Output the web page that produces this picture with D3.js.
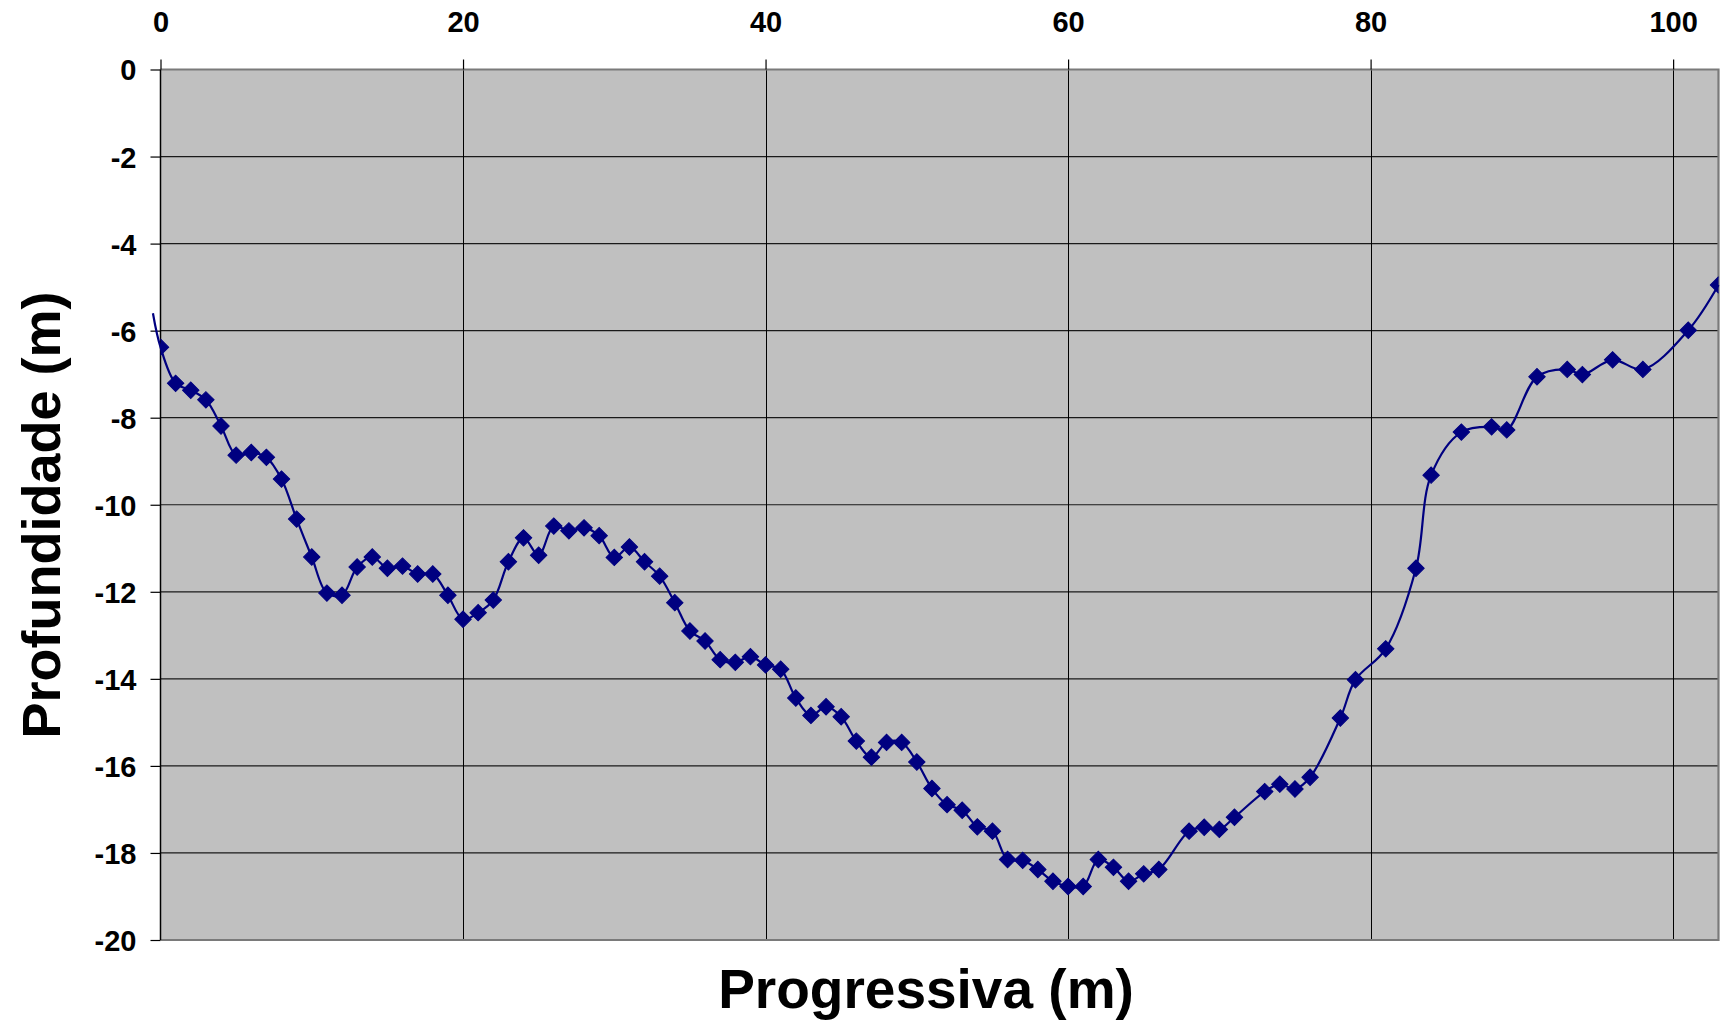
<!DOCTYPE html>
<html>
<head>
<meta charset="utf-8">
<script src="https://cdn.jsdelivr.net/npm/d3@7"></script>
<style>
  html, body { margin: 0; padding: 0; background: #fff; }
  svg { display: block; }
  text { font-family: "Liberation Sans", Arial, sans-serif; font-weight: bold; fill: #000; }
</style>
</head>
<body>
<svg id="chart" width="1720" height="1026"></svg>
<script>
// ---- data ----
const progressiva = [-0.5, 0, 1, 2, 3, 4, 5, 6, 7, 8, 9, 10, 11, 12, 13, 14, 15, 16, 17, 18, 19,
  20, 21, 22, 23, 24, 25, 26, 27, 28, 29, 30, 31, 32, 33, 34, 35, 36, 37, 38, 39,
  40, 41, 42, 43, 44, 45, 46, 47, 48, 49, 50, 51, 52, 53, 54, 55, 56, 57, 58, 59,
  60, 61, 62, 63, 64, 65, 66, 68, 69, 70, 71, 73, 74, 75, 76, 78, 79,
  81, 83, 84, 86, 88, 89, 91, 93, 94, 96, 98, 101, 103];
const profundidade = [-5.6, -6.38, -7.21, -7.37, -7.59, -8.19, -8.86, -8.80, -8.91, -9.41, -10.33, -11.20, -12.03, -12.08, -11.43, -11.20, -11.46, -11.41, -11.59, -11.59, -12.08,
  -12.63, -12.48, -12.19, -11.31, -10.76, -11.16, -10.49, -10.60, -10.53, -10.71, -11.21, -10.97, -11.31, -11.64, -12.25, -12.90, -13.13, -13.56, -13.62, -13.49,
  -13.68, -13.78, -14.44, -14.84, -14.64, -14.87, -15.43, -15.80, -15.46, -15.46, -15.91, -16.52, -16.89, -17.02, -17.40, -17.50, -18.15, -18.17, -18.38, -18.65,
  -18.77, -18.77, -18.15, -18.33, -18.65, -18.48, -18.38, -17.50, -17.41, -17.46, -17.18, -16.59, -16.42, -16.53, -16.26, -14.90, -14.02,
  -13.31, -11.46, -9.32, -8.33, -8.21, -8.28, -7.06, -6.89, -7.01, -6.67, -6.89, -5.99, -4.95];
const xTicks = [0, 20, 40, 60, 80, 100];
const yTicks = [0, -2, -4, -6, -8, -10, -12, -14, -16, -18, -20];
const xDomain = [0, 103];
const yDomain = [-20, 0];
const xTitle = "Progressiva (m)";
const yTitle = "Profundidade (m)";

// ---- layout ----
const L = 160.5, R = 1718.5, T = 69.5, B = 940;
const svg = d3.select("#chart");
const x = d3.scaleLinear().domain(xDomain).range([L, R]);
const y = d3.scaleLinear().domain(yDomain).range([B, T]);
const fmt = d => String(d); // plain hyphen-minus as in the original

// plot area
svg.append("rect").attr("x", L).attr("y", T).attr("width", R - L).attr("height", B - T)
  .attr("fill", "#C0C0C0");

svg.append("defs").append("clipPath").attr("id", "plotclip")
  .append("rect").attr("x", L).attr("y", T).attr("width", R - L).attr("height", B - T);

// gridlines
const grid = svg.append("g");
grid.selectAll("line.h").data(yTicks.filter(v => v !== 0 && v !== -20)).join("line")
  .attr("x1", L).attr("x2", R).attr("y1", d => y(d)).attr("y2", d => y(d))
  .attr("stroke", "#1a1a1a").attr("stroke-width", 1.2);
grid.selectAll("line.v").data(xTicks.filter(v => v !== 0)).join("line")
  .attr("y1", T).attr("y2", B).attr("x1", d => Math.round(x(d)) + 0.5).attr("x2", d => Math.round(x(d)) + 0.5)
  .attr("stroke", "#000").attr("stroke-width", 1);

// plot border (top, right, bottom)
svg.append("path")
  .attr("d", `M${L},${T}H${R}V${B}H${L}`)
  .attr("fill", "none").attr("stroke", "#7a7a7a").attr("stroke-width", 2.2);

// axes
const xAxis = d3.axisTop(x).tickValues(xTicks).tickSize(10).tickPadding(28).tickFormat(fmt);
const gx = svg.append("g").attr("transform", `translate(0,${T})`).call(xAxis);
gx.select(".domain").remove();
gx.selectAll(".tick line").attr("stroke", "#000").attr("stroke-width", 1.2);
gx.selectAll(".tick text").attr("font-size", 29).attr("dy", 0).attr("y", -37.5)
  .style("font-family", '"Liberation Sans", Arial, sans-serif').style("font-weight", "bold");

const yAxis = d3.axisLeft(y).tickValues(yTicks).tickSize(10).tickPadding(14).tickFormat(fmt);
const gy = svg.append("g").attr("transform", `translate(${L},0)`).call(yAxis);
gy.select(".domain").attr("stroke", "#000").attr("stroke-width", 1.5).attr("d", `M0,${T}V${B}`);
gy.selectAll(".tick line").attr("stroke", "#000").attr("stroke-width", 1.2);
gy.selectAll(".tick text").attr("font-size", 29).attr("dy", "0.36em")
  .style("font-family", '"Liberation Sans", Arial, sans-serif').style("font-weight", "bold");

// series
const pts = progressiva.map((v, i) => [v, profundidade[i]]);
const line = d3.line().x(d => x(d[0])).y(d => y(d[1])).curve(d3.curveCatmullRom.alpha(0.5));
svg.append("path").datum(pts).attr("d", line)
  .attr("fill", "none").attr("stroke", "#000080").attr("stroke-width", 2.2);

const sym = d3.symbol().type(d3.symbolSquare).size(135);
svg.append("g").attr("clip-path", "url(#plotclip)")
  .selectAll("path").data(pts.filter(d => d[0] >= xDomain[0])).join("path")
  .attr("d", sym)
  .attr("transform", d => `translate(${x(d[0])},${y(d[1])}) rotate(45)`)
  .attr("fill", "#000080").attr("stroke", "#000080").attr("stroke-width", 1);

// titles
svg.append("text").attr("x", 926).attr("y", 1008).attr("text-anchor", "middle")
  .attr("font-size", 55).text(xTitle);
svg.append("text").attr("transform", "translate(60,515) rotate(-90)").attr("text-anchor", "middle")
  .attr("font-size", 54).text(yTitle);
</script>
</body>
</html>
